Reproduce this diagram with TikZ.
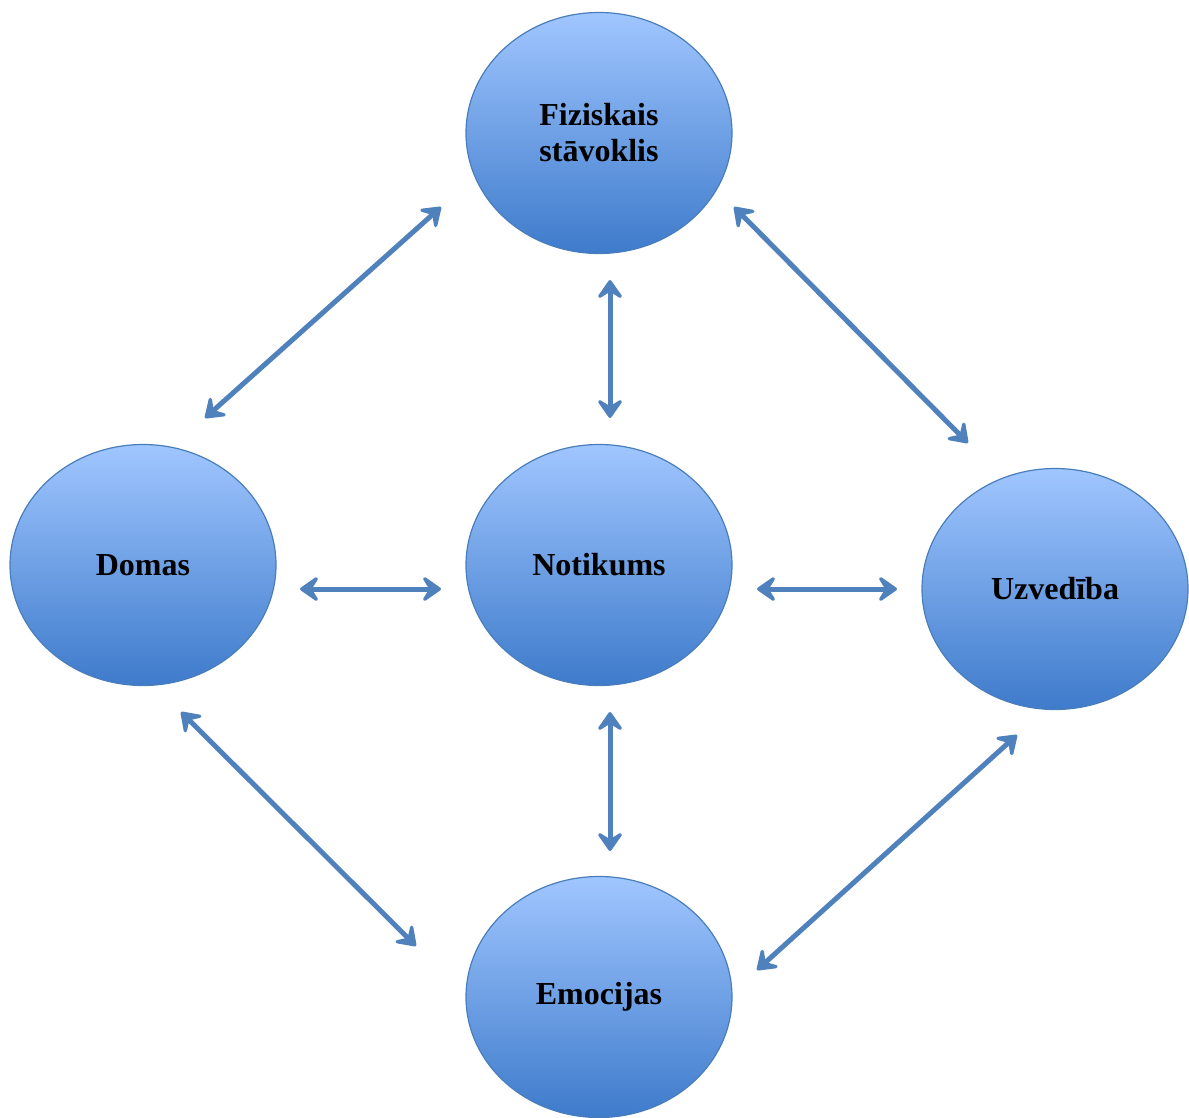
\documentclass[tikz,border=0pt]{standalone}
\usepackage{fontspec}
\setmainfont{Liberation Serif}
\usetikzlibrary{arrows.meta,shadings,shapes.geometric}
\definecolor{arrowblue}{HTML}{4F81BD}
\definecolor{topblue}{HTML}{A0C6FF}
\definecolor{botblue}{HTML}{3E7BCB}
\definecolor{rimblue}{HTML}{4A7EBB}
\tikzset{
  circ/.style={ellipse, minimum width=266pt, minimum height=241pt, draw=rimblue, line width=1.2pt,
    top color=topblue, bottom color=botblue, shading angle=0,
    font=\fontsize{32}{36}\selectfont\bfseries, align=center, inner sep=0pt},
  tip/.style={},
  link/.style={draw=arrowblue, line width=5pt,
    {Stealth[length=23pt,width=32pt,inset=10pt,round]}-{Stealth[length=23pt,width=32pt,inset=10pt,round]}}
}
\begin{document}
\begin{tikzpicture}[x=1pt,y=-1pt]
\useasboundingbox (0,0) rectangle (1189,1117);
\clip (0,0) rectangle (1189,1117);
\node[circ] (fiz) at (599,133) {Fiziskais\\stāvoklis};
\node[circ] (dom) at (143,565) {Domas};
\node[circ] (not) at (599,565) {Notikums};
\node[circ] (uzv) at (1055,589) {Uzvedība};
\node[circ] (emo) at (599,997) {\raisebox{-3pt}{Emocijas}};
% arrow ends
\coordinate (a1) at (205,418); \coordinate (a2) at (441,207);
\coordinate (b1) at (734,207); \coordinate (b2) at (968,443);
\coordinate (c1) at (610,280); \coordinate (c2) at (610,418);
\coordinate (d1) at (300,589); \coordinate (d2) at (441,589);
\coordinate (e1) at (757,589); \coordinate (e2) at (897,589);
\coordinate (f1) at (610,712); \coordinate (f2) at (610,851);
\coordinate (g1) at (181,712); \coordinate (g2) at (416,946);
\coordinate (h1) at (1017,735); \coordinate (h2) at (757,970);
\draw[link] (a1) -- (a2);
\draw[link] (b1) -- (b2);
\draw[link] (c1) -- (c2);
\draw[link] (d1) -- (d2);
\draw[link] (e1) -- (e2);
\draw[link] (f1) -- (f2);
\draw[link] (g1) -- (g2);
\draw[link] (h1) -- (h2);
\end{tikzpicture}
\end{document}
